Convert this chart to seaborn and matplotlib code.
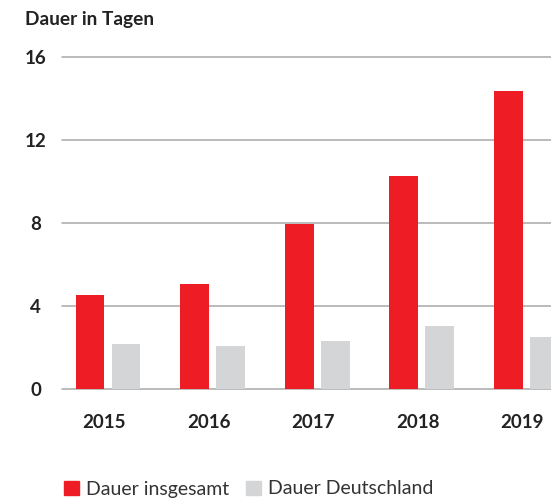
import pandas as pd
import matplotlib.pyplot as plt
import matplotlib.transforms as mtransforms
import seaborn as sns

# Werte
jahre = ['2015', '2016', '2017', '2018', '2019']
dauer_insgesamt = [4.55, 5.05, 7.95, 10.25, 14.35]
dauer_deutschland = [2.15, 2.05, 2.3, 3.05, 2.5]
reihen = ['Dauer insgesamt', 'Dauer Deutschland']
farben = ['#EE1C25', '#D4D5D7']

df = pd.DataFrame({
    'Jahr': jahre * 2,
    'Tage': dauer_insgesamt + dauer_deutschland,
    'Reihe': [reihen[0]] * len(jahre) + [reihen[1]] * len(jahre),
})

sns.set_style('white')
plt.rcParams['font.family'] = ['Lato', 'DejaVu Sans']

fig = plt.figure(figsize=(5.51, 4.99), dpi=100)
W, H = 551, 499
# Achse reicht rechts über den Bildrand hinaus (letzter Balken abgeschnitten)
ax = fig.add_axes([62 / W, (H - 389) / H, (589 - 62) / W, 332 / H])

sns.barplot(data=df, x='Jahr', y='Tage', hue='Reihe', palette=farben,
            width=0.69, gap=0.2, linewidth=0, saturation=1, ax=ax, legend=False)

ax.set_xlim(-0.44, 4.6)
ax.set_ylim(0, 16)
ax.set_yticks([0, 4, 8, 12, 16])
ax.yaxis.grid(True, color='#A8A8A8', linewidth=1.1)
ax.set_axisbelow(True)
for g in ax.get_ygridlines():
    g.set_clip_on(False)
sns.despine(ax=ax, left=True, bottom=True, top=True, right=True)
ax.set_xlabel('')
ax.set_ylabel('')
ax.tick_params(axis='both', length=0)
ax.tick_params(axis='x', pad=18)
ax.tick_params(axis='y', pad=19)
verschiebung = mtransforms.ScaledTranslation(-4 / 100, 0, fig.dpi_scale_trans)
for lbl in ax.get_xticklabels():
    lbl.set_fontsize(13.5)
    lbl.set_fontweight('bold')
    lbl.set_color('#222222')
    lbl.set_transform(lbl.get_transform() + verschiebung)
for lbl in ax.get_yticklabels():
    lbl.set_fontsize(13.5)
    lbl.set_fontweight('bold')
    lbl.set_color('#222222')
    lbl.set_horizontalalignment('center')

fig.text(25 / W, 1 - 19 / H, 'Dauer in Tagen', fontsize=13.8, fontweight='bold',
         color='#222222', ha='left', va='center')

handles = [plt.Rectangle((0, 0), 1, 1, color=c) for c in farben]
fig.legend(handles, reihen, loc='center left', bbox_to_anchor=(46 / W, 1 - 489 / H),
           ncol=2, frameon=False, fontsize=14, handlelength=0.8, handleheight=0.75,
           handletextpad=0.35, columnspacing=0.85, labelcolor='#333333')

fig.savefig('out.png', dpi=100)
